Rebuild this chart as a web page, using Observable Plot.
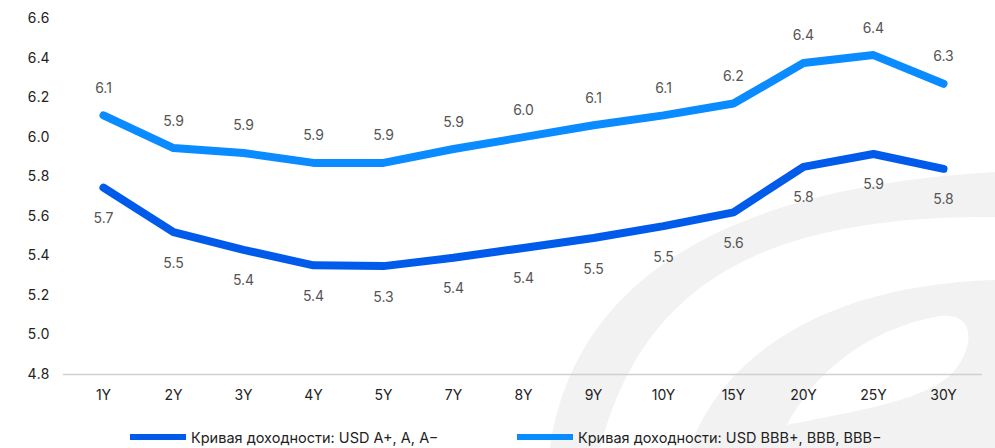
<!DOCTYPE html>
<html>
<head>
<meta charset="utf-8">
<script src="https://cdn.jsdelivr.net/npm/d3@7"></script>
<script src="https://cdn.jsdelivr.net/npm/@observablehq/plot@0.6"></script>
<style>
  html, body { margin: 0; padding: 0; background: #fff; }
  #wrap { width: 995px; height: 448px; overflow: hidden; position: relative; font-family: Inter, "Noto Sans", sans-serif; }
  #wrap > svg.deco { position: absolute; left: 0; top: 0; z-index: 0; }
  #wrap > svg.plot-main { position: absolute; left: 0; top: 0; z-index: 1; background: transparent !important; }
  .legend { position: absolute; top: 426px; left: 0; width: 995px; height: 22px; font-size: 14.5px; color: #222; z-index: 2; }
  .item { position: absolute; top: 0; display: flex; align-items: center; height: 22px; }
  .sw { width: 56px; height: 6px; margin-right: 5px; }
</style>
</head>
<body>
<div id="wrap">
  <svg class="deco" width="995" height="448" viewBox="0 0 995 448">
    <g fill="#f2f2f2" stroke="none" fill-rule="evenodd">
      <path d="M 550 448 C 570 310, 680 190, 995 172 L 995 217 C 740 215, 640 300, 600 448 Z"/>
      <path d="M 690 448 C 720 360, 820 285, 995 280 L 995 448 Z
               M 787 425 C 810 380, 860 330, 940 316 C 975 312, 975 345, 955 370 C 930 400, 860 410, 787 425 Z"/>
    </g>
  </svg>
</div>
<script>
const tenors = ["1Y","2Y","3Y","4Y","5Y","7Y","8Y","9Y","10Y","15Y","20Y","25Y","30Y"];
const yieldA   = [5.745, 5.52, 5.43, 5.352, 5.348, 5.39, 5.44, 5.49, 5.55, 5.62, 5.85, 5.915, 5.84];
const yieldBBB = [6.11, 5.945, 5.92, 5.87, 5.87, 5.94, 6.00, 6.06, 6.11, 6.17, 6.375, 6.415, 6.27];
const yTicks = [4.8, 5.0, 5.2, 5.4, 5.6, 5.8, 6.0, 6.2, 6.4, 6.6];
const seriesNames = ["Кривая доходности: USD A+, A, A−", "Кривая доходности: USD BBB+, BBB, BBB−"];
const colors = ["#005BEB", "#0A8BFF"];

const rowsA = tenors.map((t, i) => ({tenor: t, v: yieldA[i]}));
const rowsB = tenors.map((t, i) => ({tenor: t, v: yieldBBB[i]}));
const fmt = d3.format(".1f");

const chart = Plot.plot({
  width: 995,
  height: 426,
  marginTop: 18,
  marginBottom: 52,
  marginLeft: 63,
  marginRight: 13,
  style: {fontFamily: "Inter, 'Noto Sans', sans-serif", fontSize: "14px", color: "#222", background: "transparent"},
  x: {type: "point", domain: tenors, padding: 0.5, label: null, tickSize: 0, tickPadding: 16},
  y: {domain: [4.8, 6.6], ticks: yTicks, tickFormat: fmt, label: null, tickSize: 0, tickPadding: 14},
  marks: [
    Plot.ruleY([4.8], {stroke: "#d0d0d0", strokeWidth: 1.5}),
    Plot.line(rowsB, {x: "tenor", y: "v", stroke: colors[1], strokeWidth: 8, strokeLinejoin: "round"}),
    Plot.line(rowsA, {x: "tenor", y: "v", stroke: colors[0], strokeWidth: 8, strokeLinejoin: "round"}),
    Plot.text(rowsB, {x: "tenor", y: "v", text: d => fmt(d.v), dy: -27, fill: "#555", fontSize: 14}),
    Plot.text(rowsA, {x: "tenor", y: "v", text: d => fmt(d.v), dy: 31, fill: "#555", fontSize: 14})
  ]
});
chart.classList.add("plot-main");

const wrap = document.getElementById("wrap");
wrap.appendChild(chart);
const legend = document.createElement("div");
legend.className = "legend";
const lefts = [130, 517];
seriesNames.forEach((name, i) => {
  const it = document.createElement("div");
  it.className = "item";
  it.style.left = lefts[i] + "px";
  const sw = document.createElement("span");
  sw.className = "sw";
  sw.style.background = colors[i];
  const tx = document.createElement("span");
  tx.textContent = name;
  it.appendChild(sw); it.appendChild(tx);
  legend.appendChild(it);
});
wrap.appendChild(legend);
</script>
</body>
</html>
